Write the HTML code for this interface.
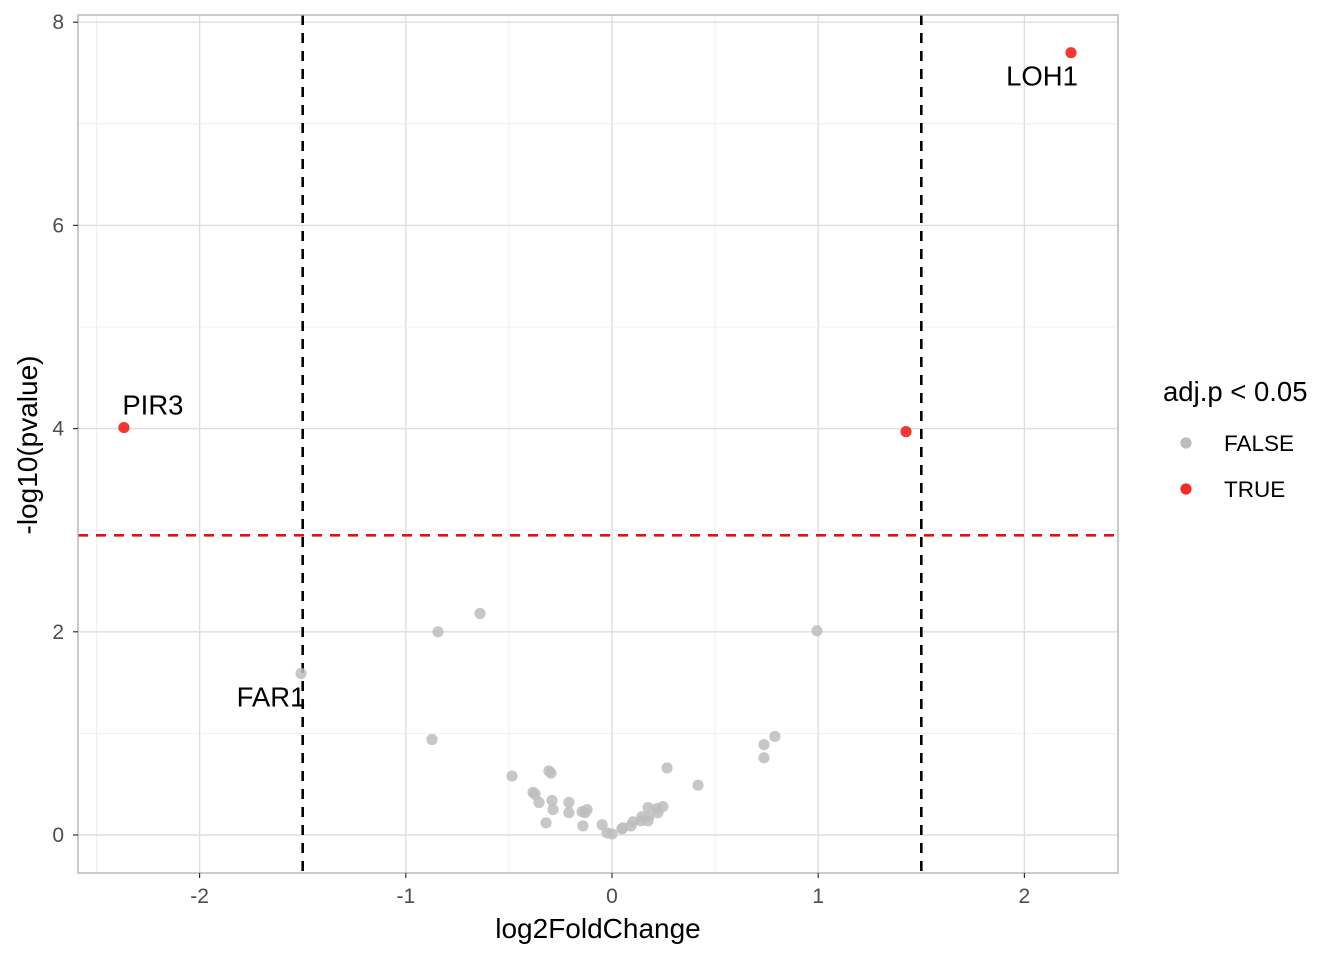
<!DOCTYPE html>
<html><head><meta charset="utf-8"><style>
body{margin:0;background:#fff;}
svg text{font-family:"Liberation Sans",sans-serif;}
</style></head><body>
<svg id="chart" width="1344" height="960"></svg>
<script>
const xs = [-0.485,-0.306,-0.296,-0.383,-0.373,-0.354,-0.291,-0.286,-0.320,-0.209,-0.209,-0.145,-0.121,-0.131,-0.141,-0.048,-0.024,0,0.048,0.053,0.092,0.102,0.141,0.145,0.175,0.179,0.175,0.218,0.223,0.247,0.267,0.417,-0.844,-0.640,-0.873,0.737,0.737,0.790,0.994,-1.508,-2.367,1.426,2.226];
const ys = [0.58,0.63,0.61,0.42,0.40,0.32,0.34,0.25,0.12,0.32,0.22,0.23,0.25,0.22,0.09,0.10,0.02,0.01,0.06,0.07,0.09,0.13,0.14,0.18,0.14,0.18,0.27,0.26,0.22,0.28,0.66,0.49,2.00,2.18,0.94,0.89,0.76,0.97,2.01,1.59,4.01,3.97,7.70];
const sig = [0,0,0,0,0,0,0,0,0,0,0,0,0,0,0,0,0,0,0,0,0,0,0,0,0,0,0,0,0,0,0,0,0,0,0,0,0,0,0,0,1,1,1];
const labelNames = ["FAR1","PIR3","LOH1"];
const labelIdx = [39,40,42];
const labelDx = [-30,29,-29];
const labelDy = [24,-22,24];
const xTicks = [-2,-1,0,1,2];
const yTicks = [0,2,4,6,8];
const vLines = [-1.5,1.5];
const hLine = 2.95;

const L=78,R=1118,T=15,B=873;
const sx=v=>612+v*206.2, sy=v=>835-v*101.6;
const svg=document.getElementById('chart');
const NS='http://www.w3.org/2000/svg';
function mk(tag,at,parent){const e=document.createElementNS(NS,tag);for(const k in at)e.setAttribute(k,at[k]);(parent||svg).appendChild(e);return e;}

let e;
for(let v=-2.5;v<=2;v+=0.5){e=mk('line',{x1:sx(v),x2:sx(v),y1:T,y2:B,stroke:Number.isInteger(v)?'#dedede':'#ebebeb','stroke-width':Number.isInteger(v)?1.4:0.8});
}
for(let v=0;v<=8;v+=1){e=mk('line',{x1:L,x2:R,y1:sy(v),y2:sy(v),stroke:v%2==0?'#dedede':'#ebebeb','stroke-width':v%2==0?1.4:0.8});
}

vLines.forEach(v=>{e=mk('line',{x1:sx(v),x2:sx(v),y1:T,y2:B,stroke:'#000','stroke-width':2.6,'stroke-dasharray':'10,8'});
});
e=mk('line',{x1:L,x2:R,y1:sy(hLine),y2:sy(hLine),stroke:'#e8100e','stroke-width':2.6,'stroke-dasharray':'10,8'});


xs.forEach((x,i)=>{e=mk('circle',{cx:sx(x),cy:sy(ys[i]),r:5.6,fill:sig[i]?'#f52a2a':'#bdbdbd','fill-opacity':sig[i]?0.95:0.85});
});

labelNames.forEach((n,i)=>{const k=labelIdx[i];e=mk('text',{x:sx(xs[k])+labelDx[i],y:sy(ys[k])+labelDy[i]+9,'text-anchor':'middle','font-size':27.5,fill:'#000'});e.textContent=n;
});

e=mk('rect',{x:L,y:T,width:R-L,height:B-T,fill:'none',stroke:'#b3b3b3','stroke-width':1.4});


xTicks.forEach(v=>{e=mk('line',{x1:sx(v),x2:sx(v),y1:B,y2:B+5,stroke:'#333','stroke-width':1.2});

e=mk('text',{x:sx(v),y:903,'text-anchor':'middle','font-size':21,fill:'#4d4d4d'});e.textContent=v;
});
yTicks.forEach(v=>{e=mk('line',{x1:L-5,x2:L,y1:sy(v),y2:sy(v),stroke:'#333','stroke-width':1.2});

e=mk('text',{x:64,y:sy(v)+7,'text-anchor':'end','font-size':21,fill:'#4d4d4d'});e.textContent=v;
});

e=mk('text',{x:598,y:938,'text-anchor':'middle','font-size':28,fill:'#000'});e.textContent='log2FoldChange';

e=mk('text',{x:0,y:0,'text-anchor':'middle','font-size':28,fill:'#000',transform:'translate(37,445) rotate(-90)'});e.textContent='-log10(pvalue)';


e=mk('text',{x:1163,y:401,'font-size':27.5,fill:'#000'});e.textContent='adj.p < 0.05';

[['FALSE','#bdbdbd',443],['TRUE','#f52a2a',489]].forEach(([t,c,y])=>{
e=mk('circle',{cx:1186,cy:y,r:5.6,fill:c});

e=mk('text',{x:1224,y:y+8,'font-size':22.5,fill:'#000'});e.textContent=t;
});
</script>
</body></html>
